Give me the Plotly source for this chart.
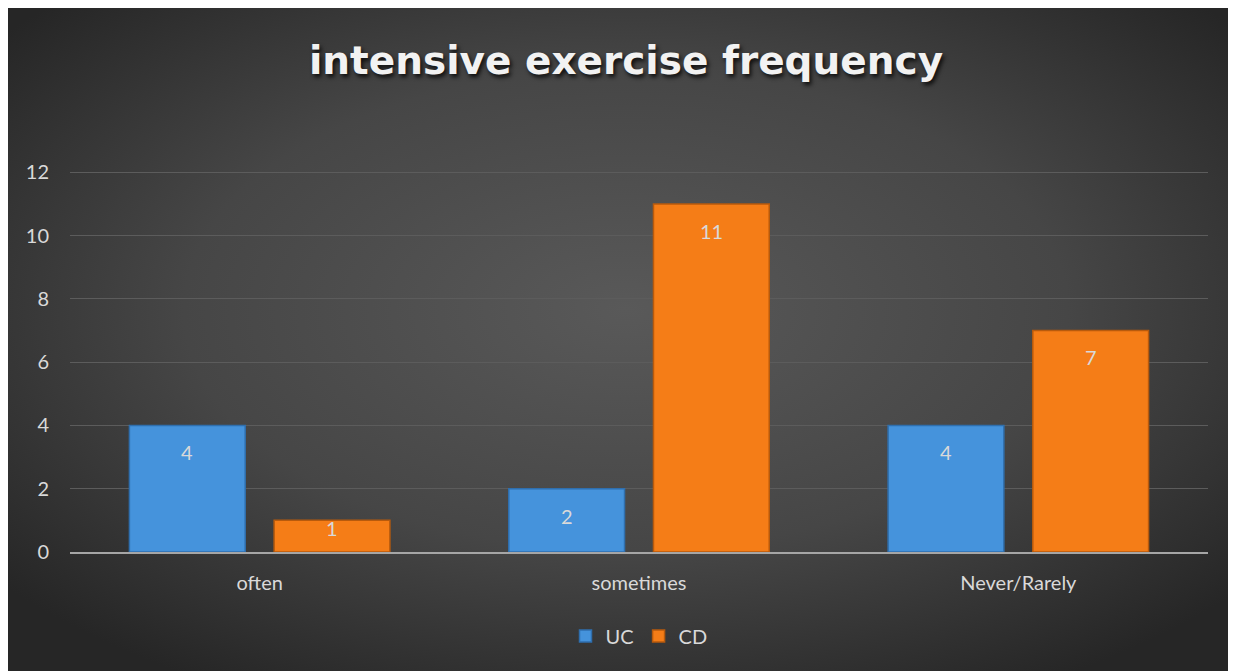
import plotly.graph_objects as go
import base64

categories = ["often", "sometimes", "Never/Rarely"]
uc_values = [4, 2, 4]
cd_values = [1, 11, 7]
y_ticks = [0, 2, 4, 6, 8, 10, 12]

W, H = 1236, 671
L, T = 62, 163
PW, PH = 1138, 381
R, B = W - L - PW, H - T - PH
YMAX = 12.04

svg = f'''<svg xmlns="http://www.w3.org/2000/svg" width="{W}" height="{H}" viewBox="0 0 {W} {H}">
<defs><radialGradient id="g" cx="50%" cy="45%" r="65%" fx="50%" fy="45%">
<stop offset="0%" stop-color="#595959"/><stop offset="55%" stop-color="#464646"/><stop offset="100%" stop-color="#262626"/>
</radialGradient></defs>
<rect x="0" y="0" width="{W}" height="{H}" fill="url(#g)"/>
</svg>'''
src = "data:image/svg+xml;base64," + base64.b64encode(svg.encode()).decode()

FONT = "Lato, 'Open Sans', sans-serif"
TXT = "#d9d9d9"

fig = go.Figure()
fig.add_trace(go.Bar(name="UC", x=categories, y=uc_values,
                     marker=dict(color="#4593dc", line=dict(color="#2f6fae", width=1.5))))
fig.add_trace(go.Bar(name="CD", x=categories, y=cd_values,
                     marker=dict(color="#f57d17", line=dict(color="#b85a0c", width=1.5))))

px_per_unit = PH / YMAX
slot = 0.5 * (1 - 0.237)
anns = []
for vals, off in [(uc_values, -slot / 2), (cd_values, slot / 2)]:
    for c, v in zip(categories, vals):
        h = v * px_per_unit
        shift = -13 if h > 60 else 6
        anns.append(dict(x=c, y=v, xref="x", yref="y", text=str(v), showarrow=False,
                         xshift=off * (PW / 3), yanchor="top", yshift=shift,
                         font=dict(family=FONT, size=20, color=TXT)))

fig.update_layout(
    width=W, height=H,
    margin=dict(l=L, r=R, t=T, b=B),
    paper_bgcolor="#3c3c3c", plot_bgcolor="rgba(0,0,0,0)",
    images=[dict(source=src, xref="paper", yref="paper",
                 x=-L / PW, y=1 + T / PH, sizex=W / PW, sizey=H / PH,
                 xanchor="left", yanchor="top", sizing="stretch", layer="below")],
    title=dict(text="intensive exercise frequency", x=0.5, xanchor="center",
               y=1 - 52 / H, yanchor="middle",
               font=dict(family="'DejaVu Sans', sans-serif", size=39, color="#f2f2f2",
                         weight="bold", shadow="2px 3px 4px rgba(0,0,0,0.8)")),
    barmode="group", bargap=0.237, bargroupgap=0.2,
    showlegend=True,
    legend=dict(orientation="h", x=0.5, xanchor="center", y=-84 / PH, yanchor="middle",
                font=dict(family=FONT, size=20, color=TXT), bgcolor="rgba(0,0,0,0)",
                itemwidth=30),
    annotations=anns,
    font=dict(family=FONT, color=TXT),
)
fig.update_yaxes(range=[0, YMAX], tickvals=y_ticks, showgrid=True, gridcolor="#5c5c5c", gridwidth=1,
                 zeroline=False, showline=False, ticks="", ticklabelstandoff=20,
                 tickfont=dict(family=FONT, size=20, color=TXT))
fig.update_xaxes(showline=True, linecolor="#a6a6a6", linewidth=2, ticks="", ticklabelstandoff=12,
                 tickfont=dict(family=FONT, size=20, color=TXT), showgrid=False)

fig.write_html("out.html")
